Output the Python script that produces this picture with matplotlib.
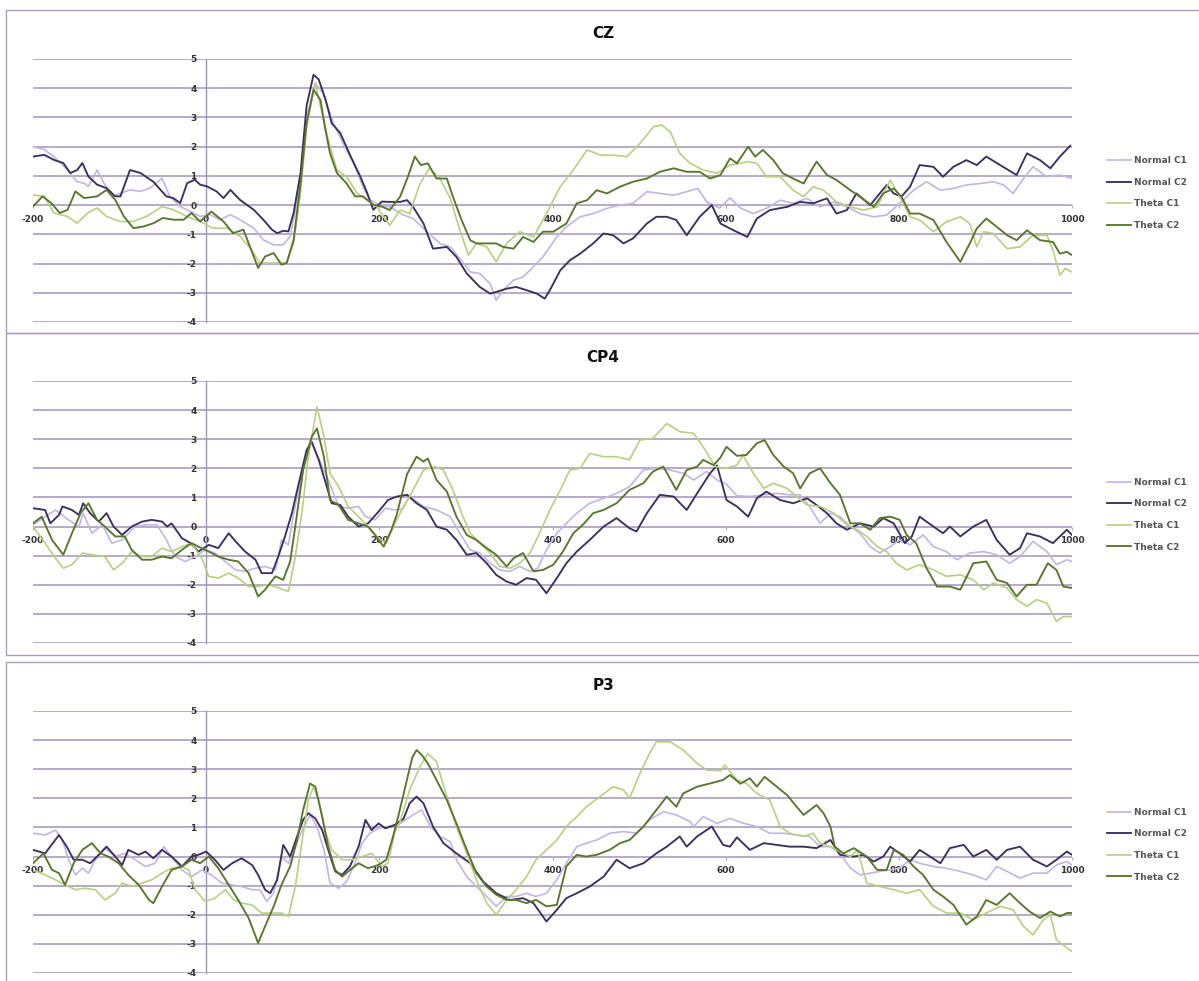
import matplotlib
matplotlib.use("Agg")
import matplotlib.pyplot as plt
from matplotlib.patches import Rectangle

# ---------------- DATA ----------------
series_names = ["Normal C1", "Normal C2", "Theta C1", "Theta C2"]
panel_titles = ["CZ", "CP4", "P3"]
x_ticks = [-200, 0, 200, 400, 600, 800, 1000]
y_ticks = [-4, -3, -2, -1, 0, 1, 2, 3, 4, 5]

# --- CZ ---
cz_nc1_x = [-200,-187,-176,-160,-149,-141,-136,-126,-118,-108,-99,-88,-76,-65,-51,-42,-30,-18,-7,5,16,28,39,55,66,78,89,97,109,116,126,135,147,158,170,181,189,201,212,228,239,255,270,282,293,305,316,328,335,343,355,366,378,389,405,416,432,447,463,478,493,509,524,540,555,568,578,593,605,617,632,647,663,678,694,709,725,740,755,771,786,801,817,832,848,863,878,894,909,921,932,944,955,971,986,1000]
cz_nc1_y = [2.0,1.9,1.66,1.2,0.8,0.75,0.64,1.2,0.75,0.3,0.41,0.52,0.47,0.58,0.92,0.3,-0.05,-0.22,-0.39,-0.33,-0.5,-0.33,-0.5,-0.79,-1.19,-1.36,-1.36,-1.07,0.75,3.0,4.17,3.83,2.8,2.12,1.44,0.64,0.18,0.0,-0.06,-0.34,-0.46,-0.91,-1.31,-1.43,-1.83,-2.29,-2.34,-2.69,-3.26,-2.91,-2.57,-2.46,-2.11,-1.77,-1.09,-0.74,-0.4,-0.29,-0.11,0.0,0.06,0.46,0.4,0.34,0.46,0.57,0.11,-0.1,0.25,-0.1,-0.29,-0.11,0.17,0.06,0.23,-0.06,0.11,-0.06,-0.29,-0.4,-0.34,0.06,0.51,0.8,0.51,0.57,0.69,0.74,0.8,0.69,0.4,0.91,1.31,0.97,1.03,0.91]

cz_nc2_x = [-200,-187,-176,-165,-157,-149,-143,-136,-126,-115,-105,-99,-88,-76,-61,-46,-38,-30,-22,-13,-7,1,12,20,28,39,55,66,76,82,89,95,101,109,116,124,130,138,145,155,167,178,186,193,203,212,224,232,239,251,262,278,289,301,316,328,335,347,358,370,382,391,397,409,420,432,447,459,470,482,493,509,520,532,543,555,570,584,594,609,625,636,651,671,686,701,717,728,740,751,767,778,786,794,803,813,824,840,851,863,878,890,901,917,936,948,963,975,986,998]
cz_nc2_y = [1.66,1.72,1.55,1.44,1.1,1.2,1.44,0.98,0.7,0.58,0.3,0.3,1.2,1.1,0.8,0.3,0.24,0.07,0.75,0.87,0.7,0.64,0.47,0.24,0.52,0.18,-0.16,-0.5,-0.84,-0.96,-0.88,-0.9,-0.27,1.1,3.4,4.46,4.3,3.6,2.8,2.46,1.66,0.98,0.41,-0.16,0.12,0.11,0.11,0.17,-0.06,-0.63,-1.49,-1.43,-1.77,-2.34,-2.8,-3.03,-2.97,-2.86,-2.8,-2.91,-3.03,-3.2,-2.91,-2.23,-1.89,-1.66,-1.31,-0.97,-1.03,-1.31,-1.14,-0.63,-0.4,-0.4,-0.51,-1.03,-0.4,0.0,-0.63,-0.86,-1.09,-0.46,-0.17,-0.06,0.11,0.06,0.23,-0.29,-0.17,0.4,0.0,0.4,0.69,0.4,0.29,0.63,1.37,1.31,0.97,1.31,1.54,1.37,1.66,1.37,1.03,1.77,1.54,1.26,1.66,2.03]

cz_tc1_x = [-200,-187,-176,-160,-149,-137,-126,-115,-99,-84,-69,-51,-38,-22,-7,8,24,39,51,62,74,85,93,101,109,116,126,133,141,151,162,174,186,197,205,212,224,235,247,258,270,282,293,303,312,324,335,347,362,378,393,409,424,440,455,470,486,501,517,526,536,547,559,574,590,605,617,625,636,647,663,678,690,701,713,728,744,759,775,790,801,813,824,840,855,871,882,890,898,909,925,940,955,971,978,986,992,1000]
cz_tc1_y = [0.35,0.3,-0.27,-0.39,-0.62,-0.27,-0.1,-0.39,-0.56,-0.56,-0.39,-0.05,-0.16,-0.39,-0.56,-0.79,-0.79,-1.07,-1.47,-1.98,-1.98,-1.98,-1.98,-1.3,0.41,2.69,4.17,3.26,2.23,1.2,0.98,0.41,0.18,-0.05,-0.4,-0.69,-0.17,-0.29,0.74,1.26,0.91,0.23,-0.86,-1.71,-1.31,-1.43,-1.94,-1.31,-0.91,-1.09,-0.29,0.63,1.2,1.89,1.71,1.71,1.66,2.11,2.69,2.74,2.51,1.77,1.43,1.2,1.09,1.37,1.43,1.49,1.43,0.97,0.97,0.51,0.29,0.63,0.51,0.11,-0.06,-0.17,-0.06,0.86,0.29,-0.4,-0.51,-0.91,-0.57,-0.4,-0.63,-1.43,-0.91,-0.97,-1.49,-1.43,-1.03,-1.03,-1.54,-2.4,-2.17,-2.29]

cz_tc2_x = [-200,-189,-179,-169,-160,-151,-141,-126,-115,-105,-95,-84,-72,-61,-50,-38,-26,-17,-7,6,20,31,43,52,60,68,78,87,93,101,109,116,124,132,137,143,151,162,172,181,193,203,212,224,233,241,248,256,266,278,285,295,305,312,324,335,343,355,366,378,389,401,416,428,440,451,463,478,493,509,524,540,555,570,582,594,605,613,626,634,643,655,666,678,690,705,717,728,744,755,771,782,794,803,813,824,840,855,871,882,890,901,913,925,936,948,963,978,986,994,1000]
cz_tc2_y = [-0.05,0.3,0.07,-0.27,-0.16,0.47,0.24,0.3,0.52,0.18,-0.39,-0.79,-0.73,-0.62,-0.44,-0.5,-0.5,-0.27,-0.56,-0.22,-0.56,-0.96,-0.84,-1.53,-2.15,-1.76,-1.64,-2.04,-1.98,-1.19,0.75,2.8,3.95,3.6,2.69,1.78,1.1,0.75,0.3,0.3,0.01,-0.05,-0.17,0.29,0.97,1.66,1.37,1.43,0.91,0.91,0.29,-0.51,-1.2,-1.31,-1.31,-1.31,-1.43,-1.49,-1.09,-1.26,-0.91,-0.91,-0.63,0.06,0.17,0.51,0.4,0.63,0.8,0.91,1.14,1.26,1.14,1.14,0.91,1.03,1.6,1.43,2.0,1.66,1.89,1.54,1.09,0.91,0.74,1.49,1.03,0.86,0.51,0.29,-0.06,0.4,0.57,0.29,-0.29,-0.29,-0.51,-1.26,-1.94,-1.31,-0.8,-0.46,-0.74,-1.03,-1.2,-0.86,-1.2,-1.26,-1.66,-1.6,-1.71]

# --- CP4 ---
cp4_nc1_x = [-200,-186,-174,-159,-147,-142,-132,-120,-109,-97,-82,-70,-57,-47,-36,-24,-13,-1,10,22,34,45,57,68,80,87,95,101,111,120,130,141,153,164,176,184,195,207,218,226,235,251,266,282,293,305,316,328,339,351,362,374,383,393,405,416,428,443,459,474,489,505,520,536,551,563,578,590,601,613,628,644,659,674,686,697,709,721,732,744,755,767,778,790,801,813,828,840,855,867,882,898,913,928,940,955,971,982,994,1000]
cp4_nc1_y = [0.06,0.34,0.57,0.23,0.0,0.45,-0.23,0.06,-0.57,-0.46,0.0,0.06,0.06,-0.4,-1.03,-1.2,-1.03,-0.8,-0.91,-1.2,-1.49,-1.54,-1.43,-1.37,-1.49,-0.46,-0.63,0.46,1.83,2.97,2.34,1.6,0.69,0.63,0.69,0.34,0.23,0.63,0.57,0.6,1.03,0.69,0.57,0.34,-0.23,-0.8,-0.91,-1.26,-1.49,-1.54,-1.37,-1.54,-1.43,-0.8,-0.23,0.11,0.46,0.8,0.97,1.14,1.37,1.94,2.0,1.94,1.83,1.6,1.89,1.6,1.45,1.06,1.03,1.09,1.14,1.09,1.09,0.69,0.11,0.46,0.34,0.0,-0.23,-0.69,-0.91,-0.69,-0.46,-0.63,-0.29,-0.69,-0.86,-1.14,-0.91,-0.86,-0.97,-1.26,-1.03,-0.51,-0.86,-1.31,-1.14,-1.2]

cp4_nc2_x = [-200,-186,-180,-170,-166,-155,-147,-142,-134,-124,-115,-107,-97,-86,-74,-63,-51,-45,-40,-28,-18,-9,3,14,26,34,45,57,64,76,84,91,99,107,116,122,130,137,145,155,164,176,187,199,210,220,232,243,255,266,278,289,301,312,324,335,347,358,370,381,393,405,416,428,443,459,474,489,497,509,524,540,555,567,582,590,601,613,626,636,647,663,678,694,705,717,728,740,755,771,782,794,807,815,824,840,851,859,871,886,901,913,928,940,948,963,978,994,1000]
cp4_nc2_y = [0.63,0.57,0.11,0.4,0.69,0.57,0.4,0.8,0.46,0.17,0.46,0.0,-0.29,0.0,0.17,0.23,0.17,0.0,0.11,-0.4,-0.57,-0.86,-0.63,-0.74,-0.23,-0.51,-0.86,-1.14,-1.6,-1.6,-0.97,-0.34,0.46,1.49,2.63,2.91,2.29,1.6,0.8,0.74,0.34,0.0,0.11,0.51,0.91,1.03,1.09,0.8,0.57,0.0,-0.11,-0.46,-0.97,-0.91,-1.26,-1.66,-1.89,-2.0,-1.77,-1.83,-2.29,-1.77,-1.26,-0.86,-0.46,0.0,0.29,-0.06,-0.17,0.46,1.09,1.03,0.57,1.14,1.83,2.1,0.91,0.69,0.34,0.97,1.2,0.91,0.8,0.97,0.74,0.46,0.11,-0.11,0.11,0.0,0.29,0.11,-0.57,-0.34,0.34,0.0,-0.23,0.0,-0.34,0.0,0.23,-0.46,-0.97,-0.74,-0.23,-0.34,-0.57,-0.11,-0.29]

cp4_tc1_x = [-200,-186,-174,-165,-155,-143,-132,-117,-107,-97,-86,-74,-63,-51,-40,-28,-17,-5,3,14,26,37,49,60,72,84,95,103,111,118,128,136,143,153,164,176,187,199,208,218,224,235,251,264,274,285,295,305,316,328,339,351,362,374,385,397,409,420,432,443,459,474,489,501,516,532,547,563,574,588,601,613,620,632,644,655,671,682,694,709,725,740,752,763,775,786,797,809,824,840,855,871,886,898,909,925,936,948,959,971,982,990,1000]
cp4_tc1_y = [0.0,-0.57,-1.09,-1.43,-1.31,-0.91,-0.97,-1.03,-1.49,-1.26,-0.86,-1.03,-1.03,-0.74,-0.86,-0.69,-0.57,-1.09,-1.71,-1.77,-1.6,-1.77,-2.06,-2.06,-2.0,-2.11,-2.23,-1.03,0.57,2.4,4.11,3.09,1.83,1.37,0.69,0.34,0.0,-0.4,-0.57,0.11,0.46,1.03,1.94,2.06,1.94,1.26,0.46,-0.23,-0.57,-0.91,-1.37,-1.43,-1.26,-0.91,-0.23,0.57,1.26,1.94,2.0,2.51,2.4,2.4,2.29,2.97,3.03,3.54,3.26,3.2,2.74,2.06,2.0,2.11,2.45,1.83,1.31,1.49,1.31,1.03,0.74,0.69,0.46,0.06,-0.11,-0.34,-0.69,-0.86,-1.26,-1.49,-1.31,-1.49,-1.71,-1.66,-1.83,-2.17,-1.94,-2.11,-2.51,-2.74,-2.51,-2.63,-3.26,-3.09,-3.09]

cp4_tc2_x = [-200,-190,-178,-165,-155,-145,-136,-126,-117,-105,-94,-86,-74,-63,-51,-40,-28,-17,-9,3,14,26,37,49,60,68,80,89,97,104,112,122,128,136,143,153,164,176,187,195,205,214,220,226,232,243,251,256,266,278,289,301,312,324,335,347,355,366,378,389,401,412,424,435,447,459,474,489,505,516,528,543,555,567,574,586,594,601,613,624,636,645,655,667,678,686,697,709,721,732,744,755,767,778,790,801,809,820,832,844,859,871,886,901,913,925,936,948,959,972,982,990,1000]
cp4_tc2_y = [0.11,0.34,-0.46,-0.97,-0.23,0.46,0.8,0.23,0.0,-0.34,-0.34,-0.8,-1.14,-1.14,-1.03,-1.09,-0.8,-0.57,-0.69,-0.86,-1.03,-1.14,-1.2,-1.6,-2.4,-2.17,-1.71,-1.83,-1.2,0.23,1.94,3.09,3.37,2.4,0.91,0.74,0.23,0.11,0.0,-0.29,-0.69,-0.11,0.4,1.1,1.8,2.4,2.23,2.34,1.6,1.2,0.34,-0.29,-0.46,-0.74,-0.97,-1.37,-1.09,-0.91,-1.54,-1.49,-1.31,-0.86,-0.23,0.06,0.46,0.57,0.8,1.26,1.49,1.89,2.06,1.26,1.94,2.06,2.29,2.11,2.37,2.74,2.43,2.46,2.86,2.97,2.46,2.06,1.83,1.31,1.83,2.0,1.49,1.09,0.11,0.11,-0.11,0.29,0.34,0.23,-0.29,-0.57,-1.43,-2.06,-2.06,-2.17,-1.26,-1.2,-1.83,-1.94,-2.4,-2.0,-2.0,-1.26,-1.49,-2.06,-2.11]

# --- P3 ---
p3_nc1_x = [-200,-186,-174,-166,-159,-151,-143,-136,-128,-117,-105,-94,-82,-70,-59,-49,-40,-28,-17,-5,6,18,30,41,53,62,70,78,87,95,103,111,120,128,136,143,153,162,172,180,189,199,210,222,228,239,249,259,270,282,289,301,312,324,335,347,358,370,381,393,405,416,428,439,451,466,482,497,512,528,543,559,563,574,590,605,621,636,651,667,682,697,709,721,732,744,755,767,778,790,801,813,824,840,855,871,886,901,913,925,940,955,971,982,994,1000]
p3_nc1_y = [0.8,0.74,0.91,0.57,-0.11,-0.63,-0.4,-0.57,-0.11,0.29,0.0,0.11,-0.11,-0.34,-0.23,0.34,0.0,-0.46,-0.69,-0.46,-0.63,-0.91,-0.97,-1.03,-1.14,-1.14,-1.54,-1.26,0.0,-0.23,0.34,0.91,1.43,1.03,0.23,-0.91,-1.09,-0.86,-0.23,0.46,0.8,0.97,1.03,1.09,1.22,1.43,1.6,1.03,0.69,0.51,-0.11,-0.69,-1.03,-1.37,-1.71,-1.37,-1.37,-1.26,-1.37,-1.26,-0.8,-0.23,0.34,0.46,0.57,0.8,0.86,0.8,1.26,1.54,1.43,1.2,1.03,1.37,1.14,1.31,1.14,1.03,0.8,0.8,0.74,0.69,0.34,0.34,0.11,-0.4,-0.63,-0.57,-0.51,-0.46,-0.4,-0.11,-0.23,-0.34,-0.4,-0.51,-0.63,-0.8,-0.34,-0.51,-0.74,-0.57,-0.57,-0.29,-0.17,-0.29]

p3_nc2_x = [-200,-186,-170,-161,-153,-143,-134,-124,-115,-105,-97,-90,-78,-70,-61,-51,-40,-28,-17,-9,0,10,20,30,41,53,60,68,74,82,89,97,105,112,118,126,134,141,149,157,166,176,184,191,199,207,218,228,235,243,251,262,274,289,305,320,335,351,366,378,393,405,416,428,443,459,474,489,505,520,532,547,555,567,584,597,605,613,628,644,659,674,690,705,721,732,748,759,771,782,790,801,813,824,836,848,859,875,886,901,913,925,940,955,971,982,994,1000]
p3_nc2_y = [0.23,0.11,0.74,0.34,-0.11,-0.11,-0.23,0.06,0.34,0.0,-0.29,0.23,0.06,0.17,-0.06,0.23,0.0,-0.34,0.0,0.06,0.17,-0.11,-0.46,-0.23,-0.06,-0.29,-0.63,-1.14,-1.26,-0.8,0.4,0.0,0.69,1.26,1.49,1.31,0.91,0.23,-0.51,-0.63,-0.34,0.34,1.26,0.91,1.14,0.97,1.09,1.3,1.83,2.06,1.83,1.03,0.46,0.11,-0.23,-0.86,-1.26,-1.49,-1.43,-1.6,-2.23,-1.83,-1.43,-1.26,-1.03,-0.69,-0.11,-0.4,-0.23,0.11,0.34,0.69,0.34,0.69,1.03,0.4,0.34,0.66,0.23,0.46,0.4,0.34,0.34,0.29,0.57,0.06,0.0,0.06,-0.17,0.0,0.34,0.11,-0.17,0.23,0.0,-0.23,0.29,0.4,0.0,0.23,-0.11,0.23,0.34,-0.11,-0.34,-0.11,0.17,0.06]

p3_tc1_x = [-200,-186,-174,-163,-151,-140,-128,-117,-105,-97,-86,-74,-63,-51,-40,-28,-20,-13,-1,10,22,32,41,53,64,76,87,95,103,111,118,124,130,137,145,157,168,180,191,203,210,218,224,235,247,256,266,278,289,301,312,324,335,347,358,370,381,393,405,416,428,439,455,470,482,489,501,512,520,536,551,567,578,594,599,613,624,636,651,663,674,690,701,709,721,732,744,752,763,778,794,809,824,840,855,871,886,901,917,932,944,955,967,975,982,992,1000]
p3_tc1_y = [-0.46,-0.63,-0.8,-0.97,-1.14,-1.09,-1.14,-1.49,-1.26,-0.91,-1.03,-0.91,-0.8,-0.57,-0.4,-0.34,-0.46,-1.14,-1.54,-1.43,-1.14,-1.49,-1.6,-1.66,-1.94,-1.94,-1.94,-2.06,-1.03,0.57,1.94,2.4,1.94,0.91,0.23,-0.11,-0.11,0.0,0.11,-0.34,-0.23,0.86,1.2,2.29,3.09,3.54,3.26,2.06,1.03,0.11,-0.8,-1.6,-2.0,-1.49,-1.14,-0.69,-0.11,0.23,0.57,1.03,1.37,1.71,2.06,2.4,2.29,2.0,2.86,3.54,3.94,3.94,3.66,3.2,2.97,2.95,3.14,2.63,2.51,2.17,1.94,1.03,0.8,0.69,0.8,0.46,0.34,0.17,0.0,0.23,-0.91,-1.03,-1.14,-1.26,-1.14,-1.71,-1.94,-1.94,-2.17,-1.94,-1.71,-1.83,-2.4,-2.69,-2.17,-2.0,-2.86,-3.09,-3.26]

p3_tc2_x = [-200,-188,-178,-170,-163,-153,-143,-132,-122,-113,-101,-90,-78,-66,-61,-51,-40,-28,-17,-7,3,14,26,37,49,60,68,78,87,97,105,112,120,126,134,141,149,157,166,176,187,199,208,215,222,230,238,243,249,256,266,278,289,301,312,324,335,347,358,370,381,393,405,416,428,439,451,466,478,489,505,520,532,543,551,567,582,597,605,617,628,636,645,659,671,682,690,705,713,721,726,736,748,763,775,786,794,805,817,828,840,851,863,878,890,901,913,928,940,951,963,975,986,994,1000]
p3_tc2_y = [-0.23,0.11,-0.46,-0.57,-0.97,-0.23,0.23,0.46,0.11,0.0,-0.23,-0.63,-0.97,-1.49,-1.6,-1.03,-0.46,-0.34,-0.11,-0.23,0.0,-0.4,-0.97,-1.49,-2.11,-2.97,-2.4,-1.71,-0.97,-0.34,0.57,1.6,2.51,2.4,1.37,0.34,-0.46,-0.69,-0.46,-0.23,-0.4,-0.29,-0.11,0.6,1.4,2.4,3.4,3.66,3.49,3.2,2.63,1.94,1.14,0.23,-0.57,-1.03,-1.31,-1.49,-1.49,-1.6,-1.49,-1.71,-1.66,-0.34,0.06,0.0,0.06,0.23,0.46,0.57,1.03,1.6,2.06,1.71,2.17,2.4,2.51,2.63,2.8,2.5,2.69,2.4,2.74,2.4,2.11,1.71,1.43,1.77,1.49,1.03,0.34,0.11,0.29,0.0,-0.46,-0.46,0.23,0.06,-0.34,-0.63,-1.14,-1.37,-1.66,-2.34,-2.06,-1.49,-1.66,-1.26,-1.6,-1.89,-2.11,-1.89,-2.06,-1.94,-1.94]

panels = [
    [(cz_nc1_x, cz_nc1_y), (cz_nc2_x, cz_nc2_y), (cz_tc1_x, cz_tc1_y), (cz_tc2_x, cz_tc2_y)],
    [(cp4_nc1_x, cp4_nc1_y), (cp4_nc2_x, cp4_nc2_y), (cp4_tc1_x, cp4_tc1_y), (cp4_tc2_x, cp4_tc2_y)],
    [(p3_nc1_x, p3_nc1_y), (p3_nc2_x, p3_nc2_y), (p3_tc1_x, p3_tc1_y), (p3_tc2_x, p3_tc2_y)],
]

# ---------------- STYLE ----------------
W, H = 1199, 981
colors = ["#c3b5e3", "#3b2f5e", "#b7d080", "#58762c"]
widths = [1.2, 1.35, 1.2, 1.35]
grid_color = "#b1a4c6"
axis_color = "#a090bc"
box_color = "#aa9dbd"

# pixel geometry (top, bottom of plotting area; top/bottom of panel box; title y)
axes_px = [(59, 322), (381, 643), (711, 973)]
box_px = [(10, 333), (333, 655), (662, 990)]
title_px = [33, 357, 686]
ax_left_px, ax_right_px = 33, 1072

fig = plt.figure(figsize=(W / 100, H / 100), dpi=100)
fig.patch.set_facecolor("white")

for i in range(3):
    bt, bb = box_px[i]
    fig.patches.append(Rectangle((6 / W, 1 - bb / H), (W + 20) / W, (bb - bt) / H,
                                 transform=fig.transFigure, fill=False,
                                 edgecolor=box_color, linewidth=1.0, zorder=0))
    t, b = axes_px[i]
    ax = fig.add_axes([ax_left_px / W, 1 - b / H, (ax_right_px - ax_left_px) / W, (b - t) / H])
    ax.set_facecolor("none")
    handles = []
    for (xs, ys), c, lw, name in zip(panels[i], colors, widths, series_names):
        ln, = ax.plot(xs, ys, color=c, lw=lw, label=name, zorder=3)
        handles.append(ln)
    ax.set_xlim(-200, 1000)
    ax.set_ylim(-4, 5)
    ax.set_xticks(x_ticks)
    ax.set_yticks(y_ticks)
    ax.set_xticklabels([str(v) for v in x_ticks])
    ax.set_yticklabels([str(v) for v in y_ticks])
    ax.yaxis.grid(True, color=grid_color, linewidth=1.3)
    ax.xaxis.grid(False)
    for gl in ax.get_ygridlines():
        gl.set_clip_on(False)
    ax.set_axisbelow(True)
    for s in ["top", "right"]:
        ax.spines[s].set_visible(False)
    ax.spines["left"].set_position(("data", 0))
    ax.spines["left"].set_color(axis_color)
    ax.spines["left"].set_linewidth(1.0)
    ax.spines["bottom"].set_position(("data", 0))
    ax.spines["bottom"].set_visible(False)
    ax.tick_params(axis="y", length=0, pad=7, labelsize=6.5, labelcolor="#333333")
    ax.tick_params(axis="x", length=2, pad=5, labelsize=6.5, labelcolor="#333333", color=grid_color)
    for lab in ax.get_yticklabels() + ax.get_xticklabels():
        lab.set_fontweight("bold")
    leg = ax.legend(handles=handles, loc="center left", bbox_to_anchor=(1.034, 0.49),
                    frameon=False, prop={"size": 6.5, "weight": "bold"},
                    handlelength=2.6, handletextpad=0.3, labelspacing=1.4,
                    borderpad=0, borderaxespad=0)
    for txt in leg.get_texts():
        txt.set_color("#555555")
    fig.text(0.503, 1 - title_px[i] / H, panel_titles[i], ha="center", va="center",
             fontsize=11, fontweight="bold", color="#111111")

fig.savefig("out.png", dpi=100, facecolor="white")
